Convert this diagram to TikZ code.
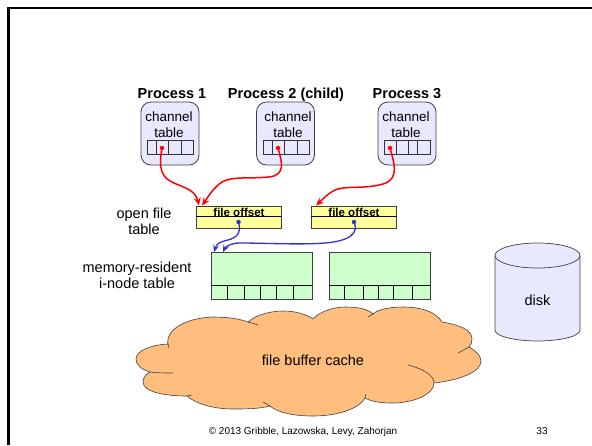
\documentclass[tikz,border=0pt]{standalone}
\usepackage{fontspec}
\setmainfont{Liberation Sans}
\usetikzlibrary{positioning, arrows.meta}

\definecolor{procfill}{HTML}{E8E8FF}
\definecolor{offsetfill}{HTML}{FFFF99}
\definecolor{inodefill}{HTML}{CCFFCC}
\definecolor{cloudfill}{HTML}{FFBE7D}
\definecolor{blueline}{HTML}{3333CC}
\definecolor{edgegray}{HTML}{404040}

\tikzset{
  lbl/.style={inner sep=0pt,align=center,font=\fontsize{14.5}{16}\selectfont},
  chanlbl/.style={inner sep=0pt,align=center,font=\fontsize{13.5}{16}\selectfont},
  proclbl/.style={inner sep=0pt,anchor=base,font=\fontsize{14.5}{16}\selectfont\bfseries},
  offsetlbl/.style={inner sep=0pt,anchor=base,font=\fontsize{11.5}{12}\selectfont\bfseries},
  smalllbl/.style={inner sep=0pt,anchor=base,font=\fontsize{10}{12}\selectfont},
  procbox/.style={draw=edgegray,fill=procfill,rounded corners=10pt,line width=0.8pt,
    minimum width=58pt,minimum height=63pt,inner sep=0pt},
  strip/.style={draw=black!80,line width=0.7pt,minimum width=46pt,minimum height=14pt,inner sep=0pt},
  offsetbox/.style={draw=edgegray,fill=offsetfill,line width=0.9pt,minimum width=85pt,minimum height=22pt,inner sep=0pt},
  inodebox/.style={draw=edgegray,fill=inodefill,line width=0.9pt,minimum width=101pt,minimum height=47pt,inner sep=0pt},
  dot/.style={circle,inner sep=0pt,minimum size=4.5pt,fill=#1},
  redarrow/.style={-{Stealth[length=8pt,width=7pt,inset=3pt]},red,line width=1.5pt},
  bluearrow/.style={-{Stealth[length=7pt,width=6pt,inset=2.5pt]},blueline,line width=1.3pt},
  cloudline/.style={draw=edgegray,line width=0.6pt},
}

\begin{document}
\begin{tikzpicture}[x=1pt,y=-1pt]
  \useasboundingbox (0,0) rectangle (592,445);

  \draw[line width=2.5pt,black] (8.5,445) -- (8.5,8) -- (592,8);

  % processes
  \node[procbox] (Proc1) at (170,133.5) {};
  \node[procbox] (Proc2) at (285.5,133.5) {};
  \node[procbox] (Proc3) at (407,133.5) {};
  \node[proclbl] (Name1) at (172,98) {Process 1};
  \node[proclbl] (Name2) at (286,98) {Process 2 (child)};
  \node[proclbl] (Name3) at (407,98) {Process 3};
  \node[chanlbl] (Chan1) at (169,125) {channel\\table};
  \node[chanlbl] (Chan2) at (288,125) {channel\\table};
  \node[chanlbl] (Chan3) at (406,125) {channel\\table};

  \node[strip] (Strip1) at (170,147) {};
  \node[strip] (Strip2) at (286,147) {};
  \node[strip] (Strip3) at (407,147) {};
  \foreach \x in {156,168,181,272,284,297,396,408,417}
    \draw[line width=0.7pt,black!80] (\x,140) -- (\x,154);

  % open file table
  \node[lbl] (OpenLbl) at (144,221) {open file\\table};
  \node[offsetbox] (Offset1) at (238.5,217) {};
  \node[offsetbox] (Offset2) at (354,217) {};
  \node[offsetlbl] (OffsetLbl1) at (239,216) {file offset};
  \node[offsetlbl] (OffsetLbl2) at (354,216) {file offset};
  \draw[line width=0.8pt] (Offset1.west |- 0,216) -- (Offset1.east |- 0,216);
  \draw[line width=0.8pt] (Offset2.west |- 0,216) -- (Offset2.east |- 0,216);

  % i-node table
  \node[lbl] (InodeLbl) at (137,275.5) {memory-resident\\i-node table};
  \node[inodebox] (Inode1) at (261.5,275.5) {};
  \node[inodebox] (Inode2) at (379.5,275.5) {};
  \draw[line width=0.8pt] (Inode1.west |- 0,285) -- (Inode1.east |- 0,285);
  \draw[line width=0.8pt] (Inode2.west |- 0,285) -- (Inode2.east |- 0,285);
  \foreach \x in {227,244,260,276,293,344,363,378,393,412}
    \draw[line width=0.7pt] (\x,285) -- (\x,299);

  % disk
  \draw[fill=procfill,draw=edgegray,line width=0.7pt] (495,255.5) -- (495,330)
    .. controls (495,337) and (518,341) .. (537.5,341)
    .. controls (557,341) and (580,337) .. (580,330) -- (580,255.5);
  \draw[fill=procfill,draw=edgegray,line width=0.7pt] (537.5,255.5) ellipse [x radius=42.5pt,y radius=12.5pt];
  \node[lbl] (Disk) at (537.5,300) {disk};

  % cloud
  \draw[fill=cloudfill,cloudline] (168,345)
    .. controls (165,330) and (185,318) .. (213,317)
    .. controls (228,317) and (240,319) .. (248,322)
    .. controls (258,313) and (275,311) .. (283,311)
    .. controls (295,311) and (306,314) .. (313,319)
    .. controls (320,311) and (335,307) .. (345,307)
    .. controls (358,307) and (368,309) .. (373,314)
    .. controls (378,309) and (392,307) .. (403,307)
    .. controls (423,307) and (437,313) .. (442,322)
    .. controls (460,325) and (472,330) .. (472,339)
    .. controls (472,342) and (471,345) .. (469,347)
    .. controls (476,351) and (481,356) .. (481,361)
    .. controls (481,372) and (460,380) .. (434,383)
    .. controls (434,395) and (412,403) .. (393,403)
    .. controls (382,403) and (372,402) .. (365,398)
    .. controls (358,410) and (335,416) .. (313,416)
    .. controls (295,416) and (278,413) .. (270,406)
    .. controls (258,409) and (245,409) .. (233,409)
    .. controls (212,409) and (195,403) .. (187,396)
    .. controls (165,396) and (143,392) .. (143,382)
    .. controls (143,378) and (146,374) .. (150,372)
    .. controls (140,369) and (136,364) .. (136,359)
    .. controls (136,351) and (150,345) .. (168,344) -- cycle;
  \draw[cloudline] (248,322) .. controls (252,323) and (255,324) .. (258,325);
  \draw[cloudline] (373,314) -- (368,317);
  \draw[cloudline] (469,347) -- (458,353);
  \draw[cloudline] (408,365) .. controls (420,368) and (434,374) .. (434,383);
  \draw[cloudline] (365,398) -- (366,394);
  \draw[cloudline] (270,406) -- (263,402);
  \draw[cloudline] (150,372) .. controls (157,373) and (165,373) .. (173,373);
  \draw[cloudline] (187,396) -- (192,395);
  \draw[cloudline] (168,344) -- (169,348);
  \node[lbl] (CacheLbl) at (313,360) {file buffer cache};

  % connectors
  \node[dot=red] (Fd1) at (162,148) {};
  \node[dot=red] (Fd2) at (278,148) {};
  \node[dot=red] (Fd3) at (390,148) {};
  \node[dot=blueline] (Ptr1) at (238.5,222) {};
  \node[dot=blueline] (Ptr2) at (354,222) {};
  \coordinate (In1) at (199,205.5);
  \coordinate (In2) at (202,205.5);
  \coordinate (In3) at (316,205.5);
  \coordinate (In4) at (214,252);
  \coordinate (In5) at (223,252);

  \draw[redarrow] (Fd1.center) .. controls (159,165) and (160,175) .. (170,181)
    .. controls (180,187) and (195,188) .. (In1);
  \draw[redarrow] (Fd2.center) .. controls (282,162) and (286,176) .. (268,177)
    .. controls (250,179) and (232,176) .. (222,182) .. controls (214,187) and (208,197) .. (In2);
  \draw[redarrow] (Fd3.center) .. controls (393,160) and (401,179) .. (383,184)
    .. controls (365,189) and (348,186) .. (338,189) .. controls (330,191) and (322,200) .. (In3);
  \draw[bluearrow] (Ptr1.center) .. controls (242,233) and (236,238) .. (228,240)
    .. controls (220,242) and (217,243) .. (In4);
  \draw[bluearrow] (Ptr2.center) .. controls (359,233) and (350,241) .. (325,243)
    .. controls (300,245) and (265,243) .. (240,243) .. controls (232,243) and (226,246) .. (In5);

  % footer
  \node[smalllbl] (Footer) at (303,434.5) {© 2013 Gribble, Lazowska, Levy, Zahorjan};
  \node[smalllbl] (PageNum) at (542,434.5) {33};
\end{tikzpicture}
\end{document}
